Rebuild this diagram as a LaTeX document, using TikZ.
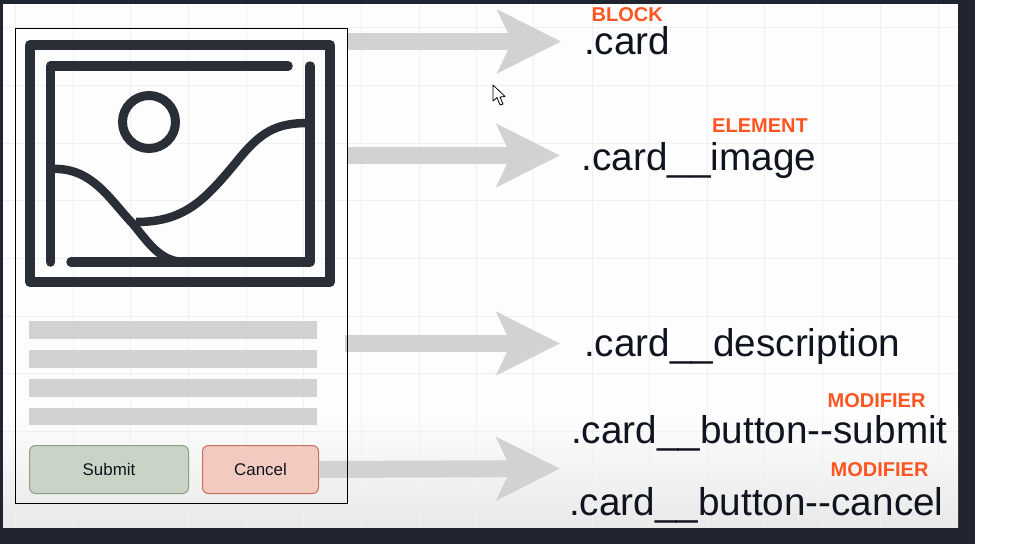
\documentclass[tikz,border=0pt]{standalone}
\usepackage{fontspec}
\setmainfont{Liberation Sans}
\usetikzlibrary{arrows.meta}
\definecolor{framedark}{HTML}{1F2430}
\definecolor{icondark}{HTML}{2A2E37}
\definecolor{panelwhite}{HTML}{FDFDFD}
\definecolor{panelgrey}{HTML}{E9E9E9}
\definecolor{gridgrey}{HTML}{F0F0F0}
\definecolor{blockgrey}{HTML}{D2D2D2}
\definecolor{tagorange}{HTML}{FF5522}
\definecolor{textdark}{HTML}{10141F}
\definecolor{submitfill}{HTML}{CAD4C6}
\definecolor{submitline}{HTML}{8E9F86}
\definecolor{cancelfill}{HTML}{F3CABF}
\definecolor{cancelline}{HTML}{C96F5E}
\tikzset{
  x=1pt,y=-1pt,
  gridline/.style={draw=gridgrey,line width=1pt},
  blockarrow/.style={draw=blockgrey,line width=17pt,-{Stealth[length=63pt,width=62pt,inset=14pt,sep=0pt]}},
  iconline/.style={draw=icondark,line width=9.5pt,line cap=round,line join=round},
  iconcurve/.style={draw=icondark,line width=8.5pt},
  textbar/.style={fill=blockgrey,draw=none,minimum height=17.5pt,minimum width=288pt,inner sep=0pt,anchor=north west},
  btn/.style={rounded corners=6pt,line width=1pt,minimum height=48pt,inner sep=0pt,anchor=north west,font=\fontsize{16.9pt}{18pt}\selectfont,text=textdark},
  classlabel/.style={anchor=base west,inner sep=0pt,font=\fontsize{38.7pt}{42pt}\selectfont,text=textdark},
  taglabel/.style={anchor=base west,inner sep=0pt,font=\fontsize{20pt}{22pt}\bfseries\selectfont,text=tagorange},
}
\begin{document}
\begin{tikzpicture}
\useasboundingbox (0,0) rectangle (1009,544);
% frame and panel
\fill[white] (0,0) rectangle (1009,544);
\fill[framedark] (0,0) rectangle (975,544);
\fill[panelwhite] (3,4) rectangle (958,415);
\shade[top color=panelwhite,bottom color=panelgrey,draw=none] (3,415) rectangle (958,527);
% grid
\foreach \gx in {15,73,130,188,246,303,361,419,476,533,592,649,707,764,822,880,938}
  \draw[gridline] (\gx,4) -- (\gx,527);
\foreach \gy in {27,85,143,200,258,316,373,431,489}
  \draw[gridline] (3,\gy) -- (958,\gy);
% buttons and bars
\node[btn,draw=submitline,fill=submitfill,minimum width=159pt] (submit) at (29,445) {Submit};
\node[btn,draw=cancelline,fill=cancelfill,minimum width=116pt] (cancel) at (202,445) {Cancel};
\node[textbar] (bar1) at (29,321) {};
\node[textbar] (bar2) at (29,350) {};
\node[textbar] (bar3) at (29,379) {};
\node[textbar] (bar4) at (29,407.5) {};
% connector ends
\coordinate (a1s) at (347,41.5);
\coordinate (a1e) at (561,41.5);
\coordinate (a2s) at (347,155.5);
\coordinate (a2e) at (560,155.5);
\coordinate (a3s) at (345,343.5);
\coordinate (a3e) at (560,343.5);
\coordinate (a4e) at (560,468.5);
\draw[blockarrow] (a1s) -- (a1e);
\draw[blockarrow] (a2s) -- (a2e);
\draw[blockarrow] (a3s) -- (a3e);
\draw[blockarrow] (cancel.east) -- (a4e);
% card outline
\node[draw=black,line width=1.2pt,minimum width=332pt,minimum height=475pt,inner sep=0pt,anchor=north west] (card) at (15,28) {};
% image icon
\draw[iconline,line width=10pt] (30,45) rectangle (330,282);
\draw[iconline] (50.5,262) -- (50.5,66) -- (288,66);
\draw[iconline] (310,66) -- (310,262) -- (71,262);
\draw[draw=icondark,line width=9pt] (149,122) circle (26.5);
\draw[iconcurve] (52,169) .. controls (92,167) and (110,200) .. (133,224)
  .. controls (150,245) and (160,260) .. (182,262);
\draw[iconcurve] (136,222) .. controls (185,222) and (205,200) .. (238,160)
  .. controls (260,133) and (275,123) .. (308,123);
% mouse pointer
\path[draw=black,fill=white,line width=0.8pt,line join=round]
  (493,85) -- (493,101) -- (497,97.5) -- (500,105) -- (503,104) -- (500,97) -- (505,96.5) -- cycle;
% labels
\node[classlabel] (lblock) at (584,54) {.card};
\node[classlabel] (lelem) at (581.5,170) {.card\_\_image};
\node[classlabel] (ldesc) at (584,356) {.card\_\_description};
\node[classlabel] (lsubmit) at (571,443) {.card\_\_button-{}-submit};
\node[classlabel] (lcancel) at (569,515) {.card\_\_button-{}-cancel};
\node[taglabel] (tblock) at (591.5,21) {BLOCK};
\node[taglabel] (telem) at (712,132.5) {ELEMENT};
\node[taglabel] (tmod1) at (827.5,407) {MODIFIER};
\node[taglabel] (tmod2) at (830.5,476.5) {MODIFIER};
\end{tikzpicture}
\end{document}
